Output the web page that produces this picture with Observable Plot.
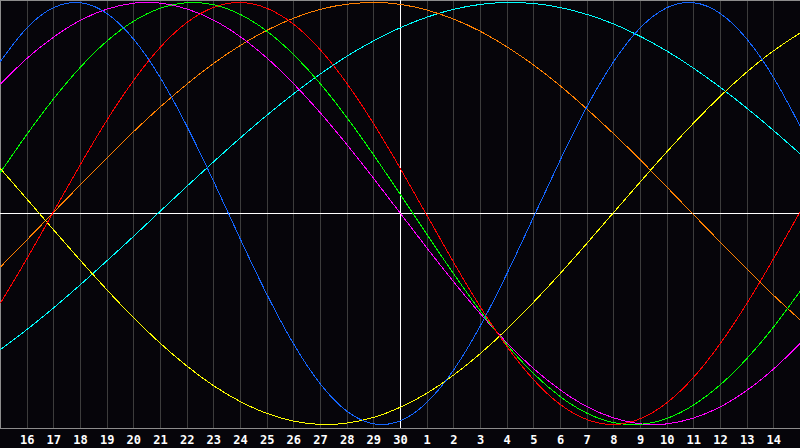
<!DOCTYPE html>
<html>
<head>
<meta charset="utf-8">
<script src="https://cdn.jsdelivr.net/npm/d3@7"></script>
<script src="https://cdn.jsdelivr.net/npm/@observablehq/plot@0.6"></script>
<style>
  html, body { margin: 0; padding: 0; background: #06050a; overflow: hidden; }
  #chart svg { display: block; }
</style>
</head>
<body>
<div id="chart"></div>
<script>
// Day of month at each column (index 0 = left edge, 30 = right edge)
const dayLabels = [15,16,17,18,19,20,21,22,23,24,25,26,27,28,29,30,1,2,3,4,5,6,7,8,9,10,11,12,13,14,15];
// Indices that carry a label
const labelIndex = [1,2,3,4,5,6,7,8,9,10,11,12,13,14,15,16,17,18,19,20,21,22,23,24,25,26,27,28,29];
const todayIndex = [15];

// Cycle values, one value per day column
const physical     = [0.721,0.881,0.976,0.999,0.947,0.825,0.642,0.411,0.150,-0.123,-0.386,-0.620,-0.809,-0.938,-0.997,-0.982,-0.894,-0.740,-0.531,-0.283,-0.014,0.256,0.508,0.721,0.881,0.976,0.999,0.947,0.825,0.642,0.411];
const emotional    = [-0.424,-0.212,0.011,0.233,0.444,0.632,0.789,0.906,0.977,1.000,0.972,0.896,0.775,0.615,0.424,0.212,-0.011,-0.233,-0.444,-0.632,-0.789,-0.906,-0.977,-1.000,-0.972,-0.896,-0.775,-0.615,-0.424,-0.212,0.011];
const intellectual = [0.195,0.377,0.545,0.694,0.818,0.912,0.973,0.999,0.989,0.943,0.863,0.752,0.614,0.453,0.276,0.089,-0.101,-0.287,-0.463,-0.623,-0.760,-0.869,-0.947,-0.991,-0.999,-0.971,-0.907,-0.811,-0.686,-0.536,-0.366];
const intuitive    = [0.614,0.736,0.837,0.916,0.969,0.997,0.997,0.969,0.916,0.837,0.736,0.614,0.476,0.325,0.165,0.000,-0.165,-0.325,-0.476,-0.614,-0.736,-0.837,-0.916,-0.969,-0.997,-0.997,-0.969,-0.916,-0.837,-0.736,-0.614];
const aesthetic    = [0.212,0.067,-0.079,-0.223,-0.363,-0.495,-0.616,-0.724,-0.817,-0.892,-0.948,-0.984,-1.000,-0.993,-0.966,-0.918,-0.851,-0.765,-0.663,-0.547,-0.419,-0.283,-0.140,0.006,0.151,0.294,0.430,0.557,0.672,0.772,0.857];
const awareness    = [-0.253,-0.124,0.007,0.137,0.265,0.389,0.506,0.614,0.712,0.797,0.869,0.926,0.968,0.992,1.000,0.991,0.964,0.921,0.863,0.789,0.703,0.604,0.494,0.377,0.253,0.124,-0.007,-0.137,-0.265,-0.389,-0.506];
const spiritual    = [-0.644,-0.549,-0.446,-0.337,-0.223,-0.107,0.012,0.130,0.246,0.359,0.467,0.568,0.662,0.746,0.819,0.881,0.931,0.968,0.991,1.000,0.995,0.976,0.943,0.898,0.839,0.769,0.688,0.597,0.498,0.392,0.281];

const seriesList = [
  {values: spiritual,    color: "#00ffff"},
  {values: awareness,    color: "#ff8000"},
  {values: aesthetic,    color: "#ffff00"},
  {values: intuitive,    color: "#ff00ff"},
  {values: intellectual, color: "#00ff00"},
  {values: emotional,    color: "#ff0000"},
  {values: physical,     color: "#1466ff"}
];

const gridIndex = labelIndex.filter(i => !todayIndex.includes(i));

const lineMarks = seriesList.map(s =>
  Plot.line(s.values, {
    x: (d, i) => i,
    y: d => d,
    stroke: s.color,
    strokeWidth: 1,
    curve: "natural",
    shapeRendering: "crispEdges"
  })
);

const chart = Plot.plot({
  width: 800,
  height: 448,
  marginLeft: 0,
  marginRight: 0,
  marginTop: 0,
  marginBottom: 20,
  style: {background: "#06050a", color: "white", overflow: "hidden"},
  x: {domain: [0, 30], axis: null},
  y: {domain: [-1, 1], range: [424, 2], axis: null},
  marks: [
    Plot.ruleX(gridIndex, {stroke: "#3c3c3c", strokeWidth: 1, shapeRendering: "crispEdges"}),
    Plot.frame({stroke: "#8c8c8c", insetRight: -3, shapeRendering: "crispEdges"}),
    Plot.ruleX(todayIndex, {stroke: "#ffffff", strokeWidth: 1, shapeRendering: "crispEdges"}),
    Plot.ruleY([0], {stroke: "#ffffff", strokeWidth: 1, shapeRendering: "crispEdges"}),
    ...lineMarks,
    Plot.text(labelIndex, {
      x: d => d,
      frameAnchor: "bottom",
      lineAnchor: "top",
      dy: 7,
      text: i => String(dayLabels[i]),
      fill: "#ffffff",
      fontFamily: "DejaVu Sans Mono",
      fontWeight: "bold",
      fontSize: 12
    })
  ]
});

document.getElementById("chart").appendChild(chart);
</script>
</body>
</html>
